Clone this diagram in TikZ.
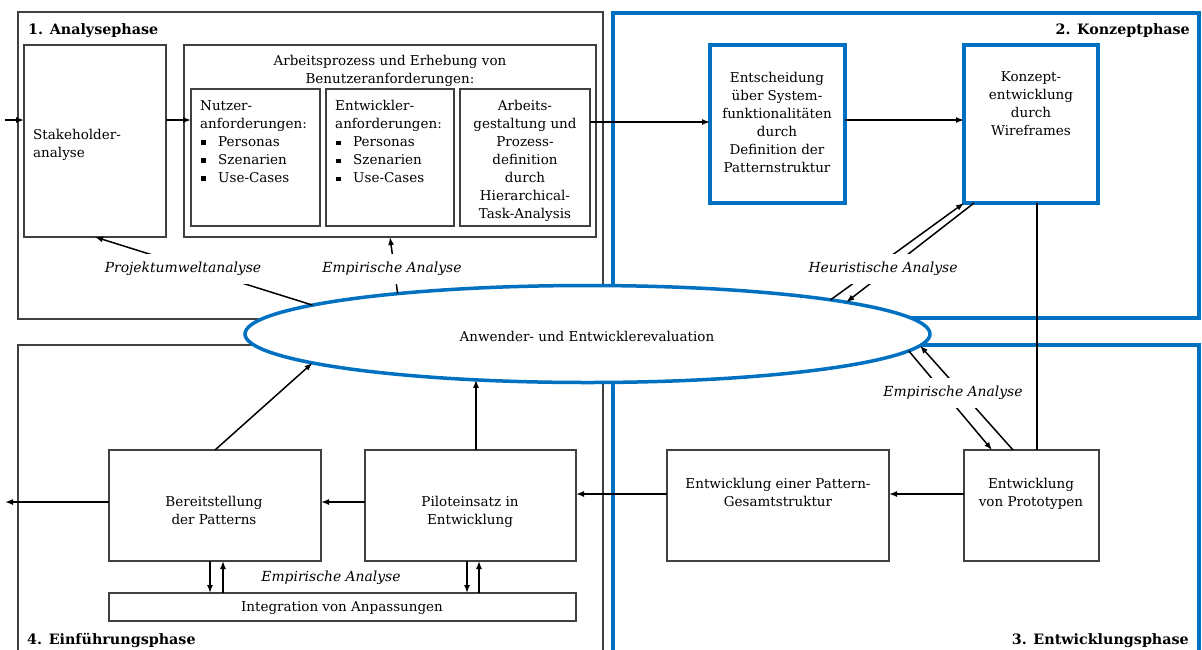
\documentclass[tikz,border=0pt]{standalone}
\usepackage{fontspec}
\setmainfont{DejaVu Serif}
\usetikzlibrary{arrows.meta,shapes.geometric}

\definecolor{phaseblue}{RGB}{0,112,192}
\definecolor{linegray}{RGB}{64,64,64}

% small square bullet for the requirement lists
\newcommand{\sqbul}{\makebox[18pt][l]{\hspace{1pt}\rule[1.5pt]{4.5pt}{4.5pt}}}

\tikzset{
  basefont/.style={font=\fontsize{13.5}{18}\selectfont},
  graybox/.style={draw=linegray, line width=1.3pt, inner sep=0pt, outer sep=0pt, fill=white},
  bluebox/.style={draw=phaseblue, line width=3.5pt, inner sep=0pt, outer sep=0pt, fill=white},
  txt/.style={basefont, inner sep=0pt, align=center},
  lbl/.style={font=\fontsize{13.9}{18}\selectfont\itshape, fill=white, inner xsep=2pt, inner ysep=8pt},
  arr/.style={-{Latex[length=8pt,width=6pt]}, line width=1.5pt},
  plain/.style={line width=1.5pt},
  phasetitle/.style={font=\fontsize{14.3}{18}\selectfont\bfseries, inner sep=0pt},
}

\begin{document}
\begin{tikzpicture}[x=1pt, y=-1pt]
  \fill[white, use as bounding box] (0,0) rectangle (1202,649);
  \clip (0,0) rectangle (1202,649);

  % phase frames
  \draw[draw=linegray, line width=1.3pt] (18,12) rectangle (603,319);
  \draw[draw=phaseblue, line width=3.5pt] (613,13) rectangle (1199,318);
  \draw[draw=linegray, line width=1.3pt] (18,345) rectangle (603,670);
  \draw[draw=phaseblue, line width=3.5pt] (613,345) rectangle (1199,670);

  \node[phasetitle, anchor=base west] (t1) at (28,34) {1. Analysephase};
  \node[phasetitle, anchor=base east] (t2) at (1190,34) {2. Konzeptphase};
  \node[phasetitle, anchor=base east] (t3) at (1189,644) {3. Entwicklungsphase};
  \node[phasetitle, anchor=base west] (t4) at (27,644) {4. Einführungsphase};

  % 1. Analysephase
  \node[graybox, minimum width=142pt, minimum height=192pt] (stake) at (95,141) {};
  \node[txt, align=left, anchor=west] (staketext) at (33,145) {Stakeholder-\\analyse};

  \node[graybox, minimum width=412pt, minimum height=192pt] (arbeit) at (390,141) {};
  \node[txt] (arbeittext) at (390,71) {Arbeitsprozess und Erhebung von\\Benutzeranforderungen:};

  \node[graybox, minimum width=129pt, minimum height=137pt] (nutzer) at (255.5,157.5) {};
  \node[txt, align=left, anchor=west] (nutzertext) at (200,141.5)
    {Nutzer-\\anforderungen:\\\sqbul Personas\\\sqbul Szenarien\\\sqbul Use-Cases};

  \node[graybox, minimum width=128pt, minimum height=137pt] (entw) at (390,157.5) {};
  \node[txt, align=left, anchor=west] (entwtext) at (335,141.5)
    {Entwickler-\\anforderungen:\\\sqbul Personas\\\sqbul Szenarien\\\sqbul Use-Cases};

  \node[graybox, minimum width=130pt, minimum height=137pt] (arbgest) at (525,157.5) {};
  \node[txt] (arbgesttext) at (525,160.5)
    {Arbeits-\\gestaltung und\\Prozess-\\definition\\durch\\Hierarchical-\\Task-Analysis};

  % 2. Konzeptphase
  \node[bluebox, minimum width=135pt, minimum height=158pt] (entsch) at (777.5,124) {};
  \node[txt] (entschtext) at (777,122)
    {Entscheidung\\über System-\\funktionalitäten\\durch\\Definition der\\Patternstruktur};

  \node[bluebox, minimum width=134pt, minimum height=158pt] (konzept) at (1031,124) {};
  \node[txt] (konzepttext) at (1031,104) {Konzept-\\entwicklung\\durch\\Wireframes};

  % 3. Entwicklungsphase
  \node[graybox, minimum width=135pt, minimum height=111pt] (proto) at (1031.5,505.5) {};
  \node[txt] (prototext) at (1031,494) {Entwicklung\\von Prototypen};

  \node[graybox, minimum width=222pt, minimum height=111pt] (pattern) at (778,505.5) {};
  \node[txt] (patterntext) at (778,492) {Entwicklung einer Pattern-\\Gesamtstruktur};

  % 4. Einführungsphase
  \node[graybox, minimum width=211pt, minimum height=111pt] (pilot) at (470.5,505.5) {};
  \node[txt] (pilottext) at (470,512) {Piloteinsatz in\\Entwicklung};

  \node[graybox, minimum width=212pt, minimum height=111pt] (bereit) at (215,505.5) {};
  \node[txt] (bereittext) at (214,510.5) {Bereitstellung\\der Patterns};

  \node[graybox, minimum width=467pt, minimum height=28pt] (integ) at (342.5,607) {};
  \node[txt] (integtext) at (342,608.5) {Integration von Anpassungen};

  % central evaluation
  \node[ellipse, draw=phaseblue, line width=3.5pt, fill=white, inner sep=0pt, outer sep=0pt,
        minimum width=685pt, minimum height=97pt] (ell) at (587.5,334) {};
  \node[txt] (elltext) at (587,336) {Anwender- und Entwicklerevaluation};

  % free ends
  \coordinate (inL) at (5,120);
  \coordinate (outL) at (5,502);

  % flow arrows
  \draw[arr] (inL) -- (inL -| stake.west);
  \draw[arr] ([yshift=-75pt]stake.north east) -- ([yshift=-31pt]nutzer.north west);
  \draw[arr] ([yshift=-33pt]arbgest.north east) -- ([yshift=-77pt]entsch.north west);
  \draw[arr] ([yshift=-75pt]entsch.north east) -- ([yshift=-75pt]konzept.north west);
  \draw[plain] ([xshift=6pt]konzept.south) -- ([xshift=5.5pt]proto.north);
  \draw[arr] ([yshift=-44pt]proto.north west) -- ([yshift=-44pt]pattern.north east);
  \draw[arr] ([yshift=-44pt]pattern.north west) -- ([yshift=-44pt]pilot.north east);
  \draw[arr] ([yshift=-52pt]pilot.north west) -- ([yshift=-52pt]bereit.north east);
  \draw[arr] ([yshift=-52pt]bereit.north west) -- (outL);

  % analysis loops with the evaluation
  \draw[arr] (ell.174.5) -- (stake.south);
  \draw[arr] (ell.168.1) -- (arbeit.south);
  \draw[arr] (ell.8.6) -- (konzept.south west);
  \draw[arr] ([xshift=10pt]konzept.south west) -- (ell.7.5);
  \draw[arr] (ell.-3.8) -- ([xshift=-39.5pt]proto.north);
  \draw[arr] ([xshift=-18.5pt]proto.north) -- (ell.-2.7);
  \draw[arr] (bereit.north) -- (ell.186);
  \draw[arr] ([xshift=5.5pt]pilot.north) -- ([xshift=5.5pt]pilot.north |- ell.202.4);

  % adaptation loops
  \draw[arr] ([xshift=-5pt]bereit.south) -- ([xshift=-5pt]bereit.south |- integ.north);
  \draw[arr] ([xshift=8pt]bereit.south |- integ.north) -- ([xshift=8pt]bereit.south);
  \draw[arr] ([xshift=-3.5pt]pilot.south) -- ([xshift=-3.5pt]pilot.south |- integ.north);
  \draw[arr] ([xshift=8.5pt]pilot.south |- integ.north) -- ([xshift=8.5pt]pilot.south);

  % connector labels
  \node[lbl] (lproj) at (183,269) {Projektumweltanalyse};
  \node[lbl] (lemp1) at (392,269) {Empirische Analyse};
  \node[lbl] (lheur) at (883,269) {Heuristische Analyse};
  \node[lbl] (lemp2) at (953,393) {Empirische Analyse};
  \node[lbl, fill=none, inner ysep=0pt] (lemp3) at (331,578) {Empirische Analyse};
\end{tikzpicture}
\end{document}
